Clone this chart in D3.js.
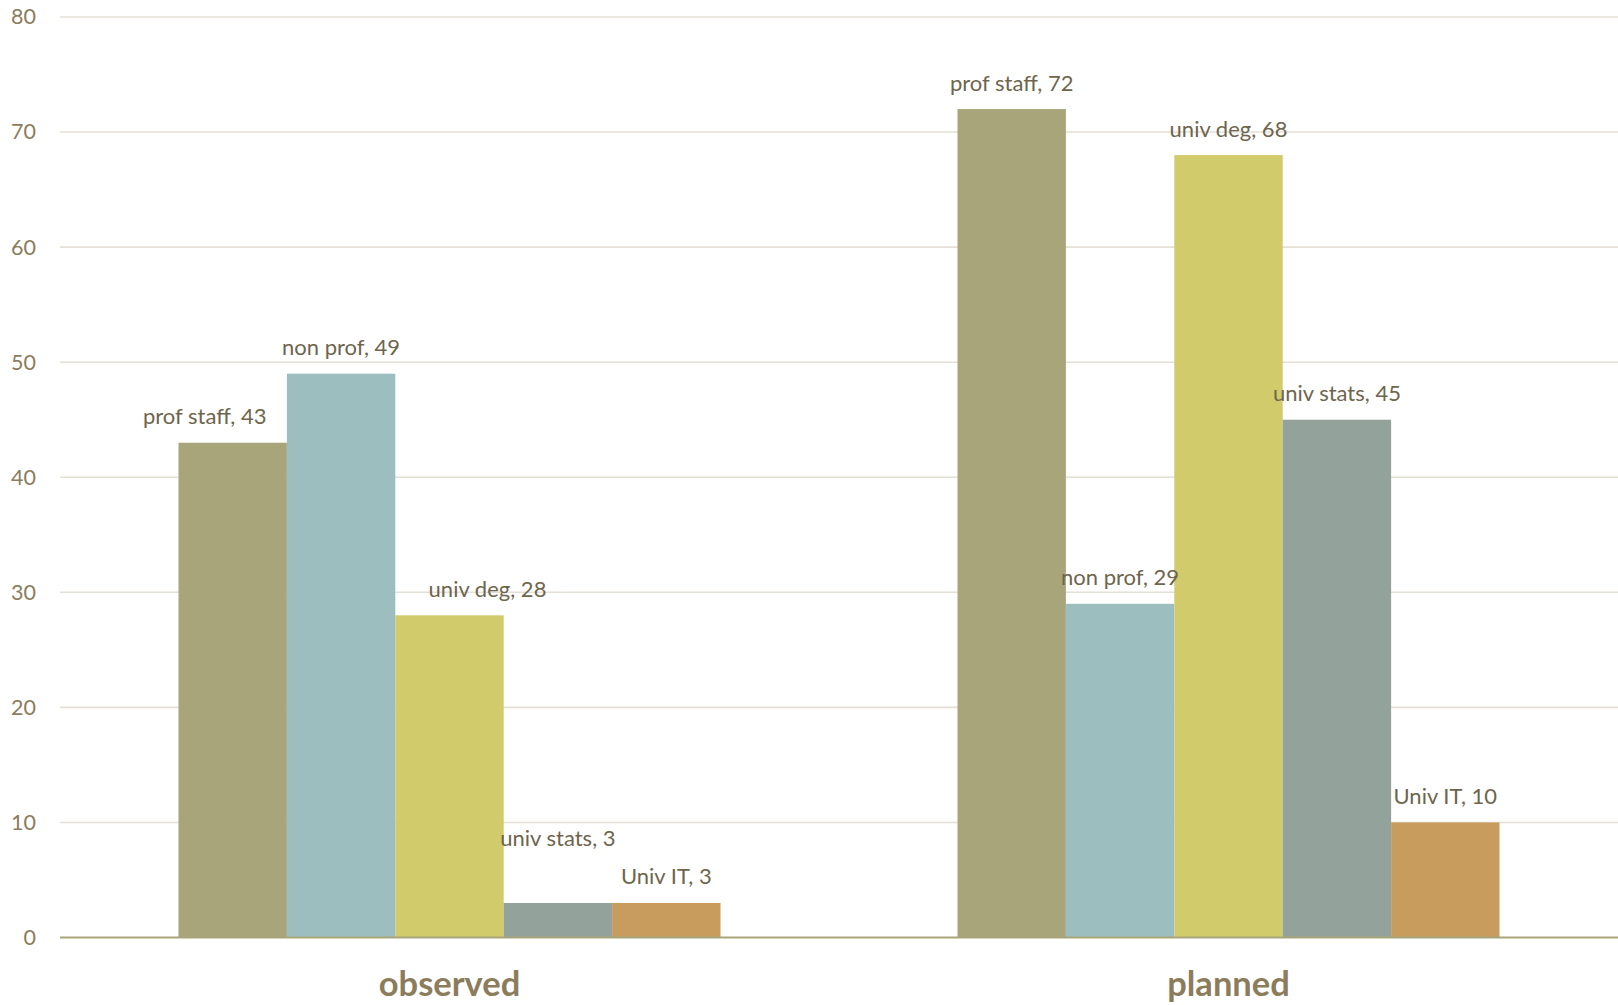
<!DOCTYPE html>
<html>
<head>
<meta charset="utf-8">
<script src="https://cdn.jsdelivr.net/npm/d3@7"></script>
<style>
  html, body { margin: 0; padding: 0; background: #ffffff; }
  svg { display: block; }
  text { font-family: Lato, "Open Sans", sans-serif; }
</style>
</head>
<body>
<svg id="chart" width="1618" height="1005"></svg>
<script>
// ---- data ----
const categories = ["observed", "planned"];
const seriesNames = ["prof staff", "non prof", "univ deg", "univ stats", "Univ IT"];
const observedValues = [43, 49, 28, 3, 3];
const plannedValues = [72, 29, 68, 45, 10];
const yTicks = [0, 10, 20, 30, 40, 50, 60, 70, 80];
const seriesColors = ["#a8a57b", "#9dbebe", "#d1cb6c", "#93a29a", "#c79c5d"];

// manual label nudges (pixels) for labels that Excel moved to avoid overlap
const labelNudges = {
  "observed|prof staff": [-28, 0],
  "observed|univ deg": [38, 0],
  "observed|univ stats": [0, -38]
};

const valuesByCategory = { observed: observedValues, planned: plannedValues };

const svg = d3.select("#chart");
const W = 1618, H = 1005;
const margin = { left: 60, right: 0, top: 17, bottom: H - 937.5 };

const x0 = d3.scaleBand().domain(categories).range([margin.left, W - margin.right]).paddingInner(0).paddingOuter(0);
const x1 = d3.scaleBand().domain(seriesNames).range([0, x0.bandwidth()]).paddingInner(0).paddingOuter(1.093);
const y = d3.scaleLinear().domain([0, 80]).range([H - margin.bottom, margin.top]);

// gridlines
svg.append("g")
  .selectAll("line")
  .data(yTicks.filter(t => t > 0))
  .join("line")
  .attr("x1", margin.left)
  .attr("x2", W)
  .attr("y1", d => y(d))
  .attr("y2", d => y(d))
  .attr("stroke", "#e5e0d5")
  .attr("stroke-width", 1.6);

// y axis labels
const yAxis = d3.axisLeft(y).tickValues(yTicks).tickSize(0).tickPadding(0);
const yg = svg.append("g").attr("transform", `translate(36,0)`).call(yAxis);
yg.select(".domain").remove();
yg.selectAll("text")
  .attr("fill", "#8a7d5c")
  .attr("font-size", 21.5)
  .attr("font-family", "Lato, 'Open Sans', sans-serif");

// bars
const rows = [];
categories.forEach(c => {
  seriesNames.forEach((s, i) => {
    rows.push({ cat: c, series: s, value: valuesByCategory[c][i], color: seriesColors[i] });
  });
});

svg.append("g")
  .selectAll("rect")
  .data(rows)
  .join("rect")
  .attr("x", d => x0(d.cat) + x1(d.series))
  .attr("width", x1.bandwidth())
  .attr("y", d => y(d.value))
  .attr("height", d => y(0) - y(d.value))
  .attr("fill", d => d.color);

// baseline axis
const xAxis = d3.axisBottom(x0).tickSize(0).tickPadding(0);
const xg = svg.append("g").attr("transform", `translate(0,${y(0)})`).call(xAxis);
xg.select(".domain").attr("stroke", "#a8a57b").attr("stroke-width", 2)
  .attr("d", `M${margin.left},0H${W}`);
xg.selectAll("text")
  .attr("y", 58)
  .attr("dy", null)
  .attr("fill", "#8b7d5b")
  .attr("font-size", 34.5)
  .attr("font-weight", "bold")
  .attr("font-family", "Lato, 'Open Sans', sans-serif");

// data labels
svg.append("g")
  .selectAll("text")
  .data(rows)
  .join("text")
  .attr("x", d => x0(d.cat) + x1(d.series) + x1.bandwidth() / 2 + (labelNudges[d.cat + "|" + d.series] || [0, 0])[0])
  .attr("y", d => y(d.value) - 18.5 + (labelNudges[d.cat + "|" + d.series] || [0, 0])[1])
  .attr("text-anchor", "middle")
  .attr("fill", "#6e654d")
  .attr("font-size", 22)
  .text(d => `${d.series}, ${d.value}`);
</script>
</body>
</html>
